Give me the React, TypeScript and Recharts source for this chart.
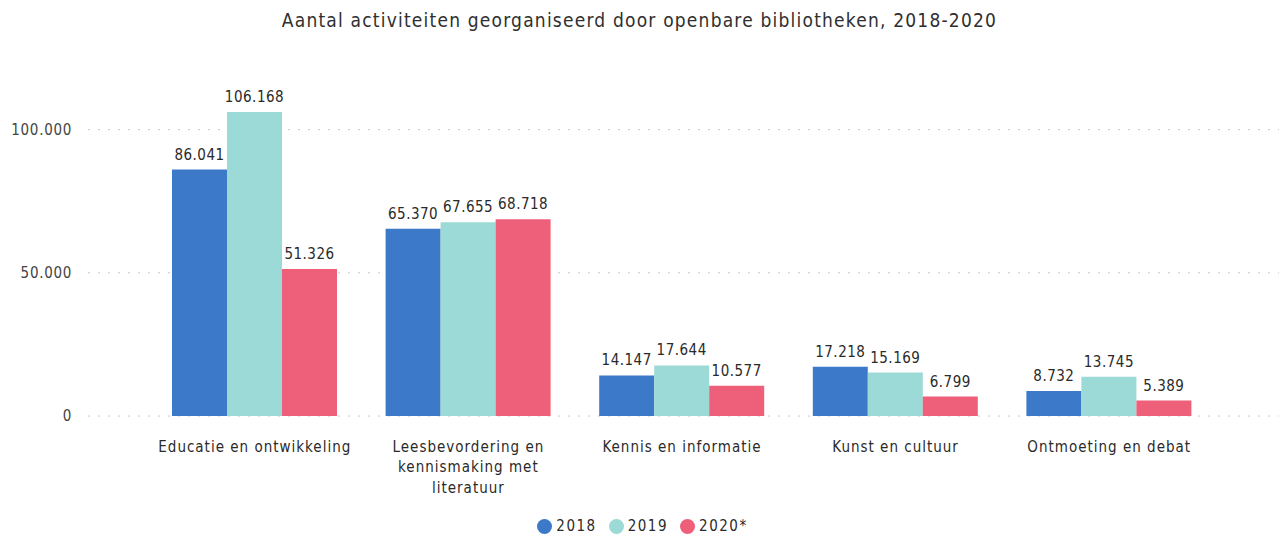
import React from 'react';
import { BarChart, Bar, XAxis, YAxis, CartesianGrid, Legend, LabelList, Text } from 'recharts';

const categories = [
  'Educatie en ontwikkeling',
  'Leesbevordering en kennismaking met literatuur',
  'Kennis en informatie',
  'Kunst en cultuur',
  'Ontmoeting en debat',
];
const values2018 = [86041, 65370, 14147, 17218, 8732];
const values2019 = [106168, 67655, 17644, 15169, 13745];
const values2020 = [51326, 68718, 10577, 6799, 5389];
const yTicks = [0, 50000, 100000];

const series = [
  { key: 'y2018', name: '2018', color: '#3C79C8' },
  { key: 'y2019', name: '2019', color: '#9BDAD6' },
  { key: 'y2020', name: '2020*', color: '#EE5F7A' },
];

const data = categories.map((name, i) => ({
  name,
  y2018: values2018[i],
  y2019: values2019[i],
  y2020: values2020[i],
}));

const FONT = '"DejaVu Sans Condensed", "Roboto", sans-serif';

const fmt = (v: number) => String(v).replace(/\B(?=(\d{3})+(?!\d))/g, '.');

const CategoryTick = (props: any) => {
  const { x, y, payload } = props;
  return (
    <Text
      x={x}
      y={y}
      width={165}
      textAnchor="middle"
      verticalAnchor="start"
      lineHeight={20.5}
      fill="#2a2a2a"
      fontSize={15}
      fontFamily={FONT}
      style={{ letterSpacing: 1 }}
    >
      {payload.value}
    </Text>
  );
};

const LegendContent = () => (
  <div style={{ display: 'flex', justifyContent: 'center', alignItems: 'center', height: 20, paddingLeft: 18, fontFamily: FONT, fontSize: 15, letterSpacing: 1.5, color: '#2a2a2a' }}>
    {series.map((s) => (
      <span key={s.key} style={{ display: 'inline-flex', alignItems: 'center', marginRight: 12 }}>
        <span style={{ width: 15, height: 15, borderRadius: '50%', background: s.color, display: 'inline-block', marginRight: 4 }} />
        {s.name}
      </span>
    ))}
  </div>
);

const App: React.FC = () => {
  return (
    <div style={{ position: 'absolute', left: 0, top: 0, width: 1279, height: 538, background: '#fff' }}>
      <div style={{ position: 'absolute', top: 9, width: 1279, textAlign: 'center', fontFamily: FONT, fontSize: 19, letterSpacing: 1.2, color: '#2f2f2f' }}>
        Aantal activiteiten georganiseerd door openbare bibliotheken, 2018-2020
      </div>
      <BarChart
        width={1279}
        height={538}
        data={data}
        margin={{ top: 101, right: 0, left: 0, bottom: 22 }}
        barCategoryGap={24}
        barGap={0}
      >
        <CartesianGrid vertical={false} stroke="#c8c8c8" strokeDasharray="2 8" horizontalValues={yTicks} />
        <XAxis
          dataKey="name"
          axisLine={false}
          tickLine={false}
          tickSize={0}
          tickMargin={25}
          height={80}
          interval={0}
          padding={{ left: 60, right: 63 }}
          tick={<CategoryTick />}
        />
        <YAxis
          width={88}
          domain={[0, 110000]}
          ticks={yTicks}
          axisLine={false}
          tickLine={false}
          tickSize={0}
          tickMargin={16}
          tickFormatter={fmt}
          tick={{ fill: '#444', fontSize: 15, fontFamily: FONT, style: { letterSpacing: 0.7 } }}
        />
        <Legend verticalAlign="bottom" content={<LegendContent />} wrapperStyle={{ bottom: 2 }} />
        {series.map((s) => (
          <Bar key={s.key} dataKey={s.key} name={s.name} fill={s.color} isAnimationActive={false}>
            <LabelList
              dataKey={s.key}
              position="top"
              offset={10}
              formatter={(v: any) => fmt(Number(v))}
              style={{ fill: '#2a2a2a', fontSize: 15, fontFamily: FONT, letterSpacing: 0.5 }}
            />
          </Bar>
        ))}
      </BarChart>
    </div>
  );
};

export default App;
